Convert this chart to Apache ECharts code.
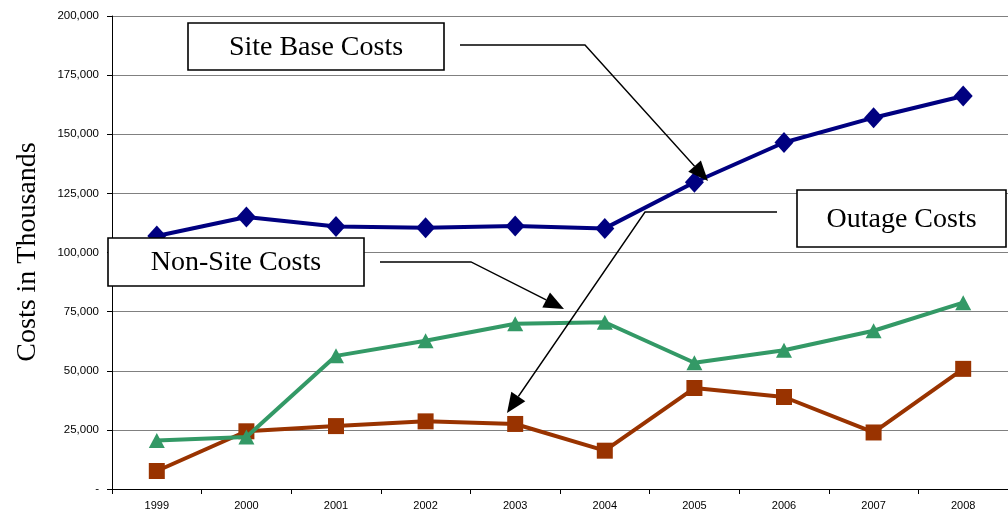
<!DOCTYPE html>
<html>
<head>
<meta charset="utf-8">
<script src="https://cdn.jsdelivr.net/npm/echarts@6/dist/echarts.min.js"></script>
<style>
  html, body { margin: 0; padding: 0; background: #ffffff; }
  #chart { width: 1008px; height: 512px; }
</style>
</head>
<body>
<div id="chart"></div>
<script>
// Annual costs, in thousands of dollars
const years = ['1999', '2000', '2001', '2002', '2003', '2004', '2005', '2006', '2007', '2008'];
const siteBaseCosts = [107000, 115000, 111000, 110500, 111200, 110200, 129700, 146500, 157000, 166200];
const nonSiteCosts = [20500, 22000, 56300, 62700, 69900, 70500, 53400, 58700, 66900, 78800];
const outageCosts = [7600, 24400, 26600, 28600, 27500, 16200, 42700, 38900, 23900, 50800];
const seriesNames = ['Site Base Costs', 'Non-Site Costs', 'Outage Costs'];
const axisTitle = 'Costs in Thousands';

const SERIF = '"Liberation Serif", "Times New Roman", serif';
const SANS = '"Liberation Sans", Arial, sans-serif';

const chart = echarts.init(document.getElementById('chart'), null, { renderer: 'canvas' });

// Callout: boxed label with an elbow leader ending in a filled arrowhead
function callout(text, box, path) {
  const els = [];
  els.push({
    type: 'rect', z: 100,
    shape: { x: box[0], y: box[1], width: box[2], height: box[3] },
    style: { fill: '#ffffff', stroke: '#000000', lineWidth: 1.6 }
  });
  els.push({
    type: 'text', z: 101,
    x: box[0] + box[2] / 2, y: box[1] + box[3] / 2 + 1,
    style: { text: text, font: '28px ' + SERIF, fill: '#000000', align: 'center', verticalAlign: 'middle' }
  });
  const n = path.length;
  const tip = path[n - 1], prev = path[n - 2];
  const dx = tip[0] - prev[0], dy = tip[1] - prev[1];
  const len = Math.sqrt(dx * dx + dy * dy);
  const ux = dx / len, uy = dy / len;
  const headLen = 20, headHalf = 8.5;
  const bx = tip[0] - ux * headLen, by = tip[1] - uy * headLen;
  const linePts = path.slice(0, n - 1).concat([[bx, by]]);
  els.push({
    type: 'polyline', z: 100,
    shape: { points: linePts },
    style: { stroke: '#000000', lineWidth: 1.4, fill: null }
  });
  els.push({
    type: 'polygon', z: 100,
    shape: { points: [tip, [bx - uy * headHalf, by + ux * headHalf], [bx + uy * headHalf, by - ux * headHalf]] },
    style: { fill: '#000000' }
  });
  return els;
}

const graphics = []
  .concat(callout(seriesNames[0], [188, 23, 256, 47], [[460, 45], [585, 45], [708, 181]]))
  .concat(callout(seriesNames[2], [797, 190, 209, 57], [[777, 212], [645, 212], [507, 413]]))
  .concat(callout(seriesNames[1], [108, 238, 256, 48], [[380, 262], [471, 262], [564, 309]]));

graphics.push({
  type: 'text', z: 101,
  x: 28, y: 252, rotation: Math.PI / 2,
  style: { text: axisTitle, font: '28px ' + SERIF, fill: '#000000', align: 'center', verticalAlign: 'middle' }
});

function lineSeries(name, data, color, symbol, size, z) {
  return {
    name: name, type: 'line', data: data,
    symbol: symbol, symbolSize: size,
    lineStyle: { color: color, width: 4 },
    itemStyle: { color: color },
    emphasis: { disabled: true },
    z: z
  };
}

chart.setOption({
  animation: false,
  backgroundColor: '#ffffff',
  grid: { left: 112, top: 16, width: 900, bottom: 23, containLabel: false },
  xAxis: {
    type: 'category',
    data: years,
    boundaryGap: true,
    axisLine: { lineStyle: { color: '#000000', width: 1 } },
    axisTick: { show: true, inside: false, length: 5, lineStyle: { color: '#000000' } },
    axisLabel: { color: '#000000', fontFamily: SANS, fontSize: 11, margin: 11 },
    splitLine: { show: false }
  },
  yAxis: {
    type: 'value',
    min: 0, max: 200000, interval: 25000,
    axisLine: { show: true, lineStyle: { color: '#000000', width: 1 } },
    axisTick: { show: true, inside: false, length: 5, lineStyle: { color: '#000000' } },
    axisLabel: {
      color: '#000000', fontFamily: SANS, fontSize: 11.5, margin: 13,
      formatter: v => v === 0 ? '-' : v.toLocaleString('en-US')
    },
    splitLine: { show: true, lineStyle: { color: '#808080', width: 1 } }
  },
  series: [
    lineSeries(seriesNames[0], siteBaseCosts, '#000080', 'diamond', [19, 21], 5),
    lineSeries(seriesNames[1], nonSiteCosts, '#339966', 'triangle', [16, 15], 4),
    lineSeries(seriesNames[2], outageCosts, '#993300', 'rect', [16, 16], 3)
  ],
  graphic: graphics
});
</script>
</body>
</html>
